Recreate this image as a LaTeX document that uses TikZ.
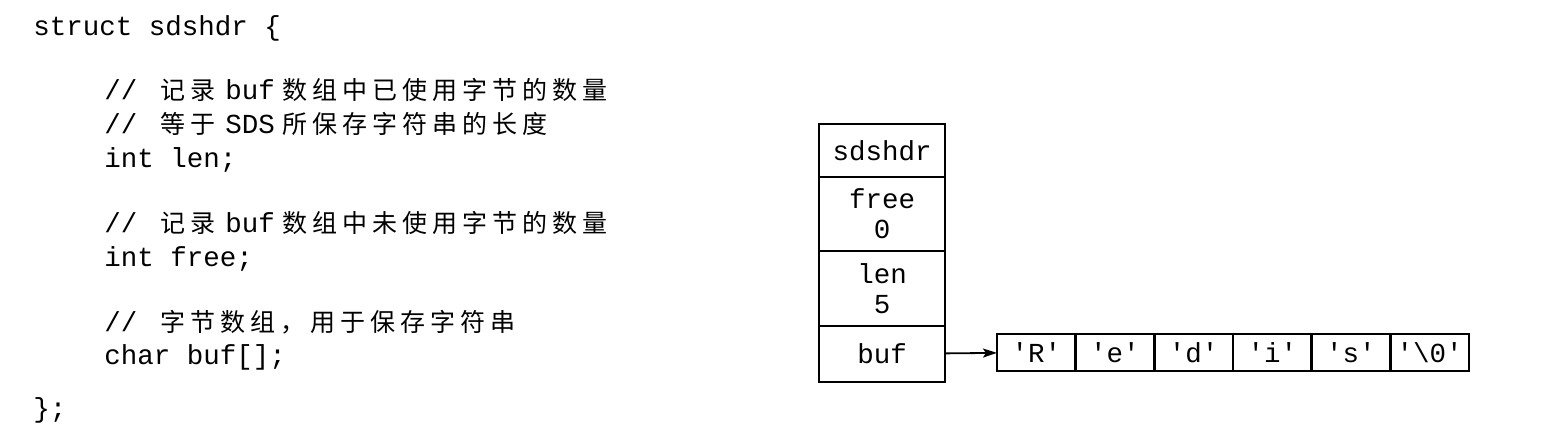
\documentclass[tikz,border=0pt]{standalone}
\usepackage{fontspec}
\setmonofont{Liberation Mono}
\newfontfamily\cjk[LetterSpace=20]{Noto Sans CJK SC}
\newcommand{\zh}[1]{{\cjk\fontsize{12.5}{16}\selectfont #1}}
\usetikzlibrary{positioning,arrows,arrows.meta}

\begin{document}
\begin{tikzpicture}[x=0.5pt,y=-0.5pt,
	code/.style={anchor=base west,inner sep=0pt,font=\ttfamily\fontsize{13.75}{16}\selectfont},
	field/.style={draw=black,line width=1.3pt,outer sep=0pt,inner sep=0pt,minimum width=63pt,align=center,font=\ttfamily\fontsize{13.75}{15}\selectfont},
	cell/.style={draw=black,line width=1.3pt,outer sep=0pt,inner sep=0pt,minimum width=39.33pt,minimum height=18.5pt,font=\ttfamily\fontsize{13.75}{16}\selectfont}]

		\useasboundingbox (0,0) rectangle (1541,445);

		%struct code
		\node[code] (l1) at (33,35) {struct sdshdr \{};
		\node[code] (l2) at (104,99) {//\hspace{11.5pt}\zh{记录}\hspace{5pt}buf\hspace{4pt}\zh{数组中已使用字节的数量}};
		\node[code] (l3) at (104,133) {//\hspace{11.5pt}\zh{等于}\hspace{5pt}SDS\hspace{4pt}\zh{所保存字符串的长度}};
		\node[code] (l4) at (104,167) {int len;};
		\node[code] (l5) at (104,232) {//\hspace{11.5pt}\zh{记录}\hspace{5pt}buf\hspace{4pt}\zh{数组中未使用字节的数量}};
		\node[code] (l6) at (104,266) {int free;};
		\node[code] (l7) at (104,331) {//\hspace{11.5pt}\zh{字节数组，用于保存字符串}};
		\node[code] (l8) at (104,364) {char buf[];};
		\node[code] (l9) at (33,417) {\};};

		%sdshdr fields
		\node[field,minimum height=26.5pt] (hdr) at (882,150.5) {sdshdr};
		\node[field,minimum height=37pt,below=0pt of hdr] (free) {free\\0};
		\node[field,minimum height=37.5pt,below=0pt of free] (len) {len\\5};
		\node[field,minimum height=28pt,below=0pt of len] (buf) {buf};

		%buf array
		\node[cell] (c1) at (1036.3,352.5) {'R'};
		\node[cell,right=0pt of c1] (c2) {'e'};
		\node[cell,right=0pt of c2] (c3) {'d'};
		\node[cell,right=0pt of c3] (c4) {'i'};
		\node[cell,right=0pt of c4] (c5) {'s'};
		\node[cell,right=0pt of c5] (c6) {'\textbackslash 0'};

		%pointer
		\draw[-{Stealth[length=7pt,width=4.5pt,inset=1.5pt]},line width=0.9pt] (buf) -- (c1);

\end{tikzpicture}
\end{document}
